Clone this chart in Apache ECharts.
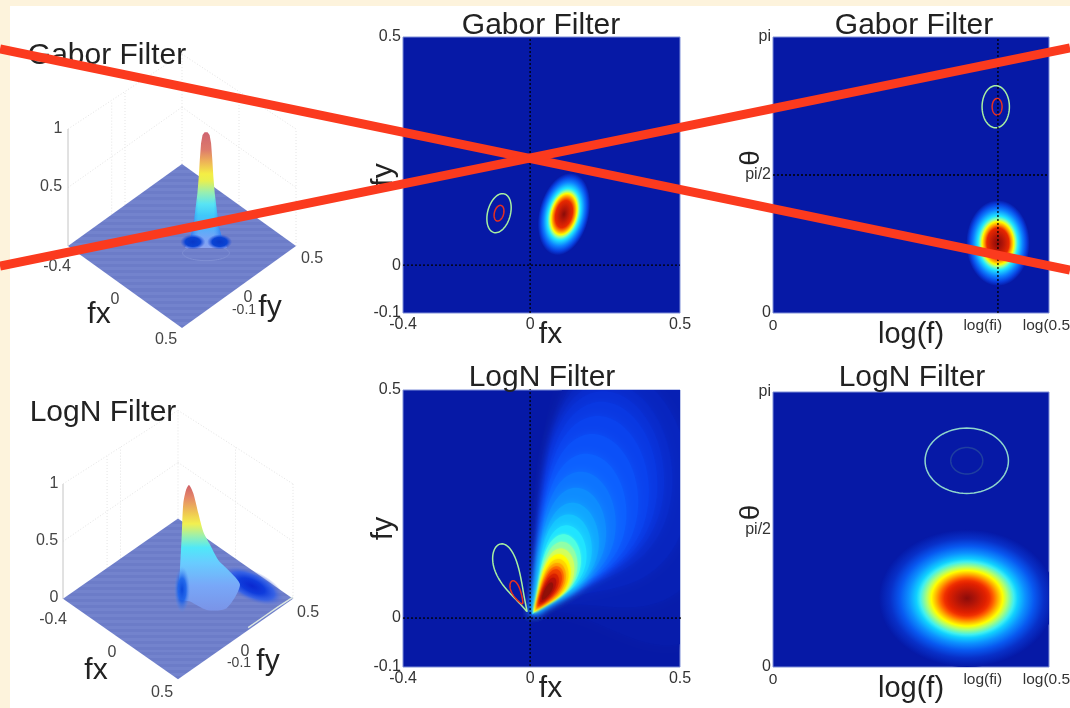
<!DOCTYPE html>
<html><head><meta charset="utf-8">
<style>html,body{margin:0;padding:0;background:#fdf3dc}#c{width:1070px;height:708px}</style>
<script src="https://cdn.jsdelivr.net/npm/echarts@6/dist/echarts.min.js"></script>
</head><body><div id="c"></div>
<script>
// ---------- values ----------
const titles = ['Gabor Filter','Gabor Filter','Gabor Filter','LogN Filter','LogN Filter','LogN Filter'];
const fxTicks = [-0.413, 0, 0.487];
const fyTicks = [-0.104, 0, 0.496];
const logTicks = [0, 0.76, 1];
const logTickLabels = ['0','log(fi)','log(0.5)'];
const thetaTicks = [0, 90, 180];
const thetaTickLabels = ['0','pi/2','pi'];

// blobs: [centre x, centre y, radius x, radius y, tilt deg]
const gaborXYBlob = [[0.110, 0.111, 0.081, 0.091, 14]];
const gaborXYStops = [[0,'#8a0c08'],[0.12,'#b01408'],[0.33,'#e82800'],[0.42,'#ff9000'],[0.5,'#ffff00'],[0.56,'#90ffa0'],[0.63,'#20e8ff'],[0.78,'#0c80ff'],[0.9,'#0840e0'],[1,'#0619a6']];
const gaborLogBlob = [[0.815, 45.6, 0.115, 28, 0]];
const gaborLogStops = [[0,'#8a0c08'],[0.15,'#b01408'],[0.35,'#e82800'],[0.42,'#ff9000'],[0.5,'#ffff00'],[0.56,'#90ffa0'],[0.63,'#20e8ff'],[0.78,'#0c80ff'],[0.9,'#0840e0'],[1,'#0619a6']];
const logNLogBlob = [[0.703, 45, 0.32, 45, 0]];
const logNLogStops = [[0,'#8c0c0a'],[0.096,'#b01408'],[0.213,'#e02000'],[0.255,'#f03000'],[0.298,'#ff6000'],[0.35,'#ffb000'],[0.404,'#ffff00'],[0.456,'#b0ff70'],[0.53,'#40f0f0'],[0.574,'#10d0ff'],[0.66,'#0c90ff'],[0.76,'#0858f0'],[0.87,'#0830c8'],[1,'#0518a6']];

// outlines: [centre x, centre y, radius x, radius y, tilt deg]
const gaborXYOutlines = [[-0.101,0.113,0.037,0.0435,-15],[-0.101,0.113,0.015,0.0174,-15]];
const gaborLogOutlines = [[0.807,134.5,0.0495,13.7,0],[0.812,134.5,0.018,5.4,0]];
const logNLogOutlines = [[0.702,135,0.151,21.4,0],[0.702,135,0.058,8.7,0]];
const gaborOutlineColors = ['#a8f0a0','#e83020'];
const logNOutlineColors = ['#8fd6cc','#1f3fa0'];

// LogN contours in fx/fy: [near radius, far radius, direction deg, half spread deg]
const logNContours = [
 [0.009,0.78,36,44],[0.009,0.70,42,38],[0.009,0.64,47,34],[0.009,0.60,50,31],[0.009,0.575,51,30],
 [0.009,0.55,51,29],[0.009,0.515,51,28.5],[0.010,0.47,51,28],[0.010,0.42,51,27.5],[0.010,0.375,51,27],
 [0.011,0.335,51,26],[0.011,0.30,50,25.5],[0.012,0.27,50,25],[0.012,0.245,49,24],[0.014,0.222,49,23],
 [0.016,0.205,48,22],[0.018,0.19,47,21],[0.021,0.175,47,20],[0.024,0.165,46,18.5],[0.028,0.155,46,17],
 [0.032,0.147,46,15],[0.036,0.14,46,13],[0.042,0.128,46,11],[0.048,0.118,46,8.5],[0.056,0.105,46,6]];
const logNContourColors = ['#071cab','#0720b4','#0825bf','#082aca','#0930d6','#0938e2','#0a42ee','#0b50f8','#0c60ff','#0d74ff','#0e8cff','#10a6ff','#14c4ff','#20e4ff','#50ffe0','#90ffa8','#d0ff60','#ffff00','#ffd800','#ffa800','#ff7000','#f04000','#d82000','#b81008','#901008'];
const logNMirrorOutlines = [[0.018,0.19,125,16],[0.04,0.10,128,10]];

// 3-D box, [fx, fy, z] pairs
const wallLines = [
 [[-0.4,-0.1,1],[-0.4,0.5,0.94]],[[-0.4,0.5,0.94],[0.5,0.5,1]],
 [[-0.4,-0.1,0.5],[-0.4,0.5,0.487]],[[-0.4,0.5,0.487],[0.5,0.5,0.5]],
 [[-0.4,0.5,0],[-0.4,0.5,0.94]],[[0.5,0.5,0],[0.5,0.5,1]],
 [[-0.4,0.2,0],[-0.4,0.2,0.97]],[[-0.4,0.13,0],[-0.4,0.13,0.97]],[[0.05,0.5,0],[0.05,0.5,0.97]]];
const zAxisLine = [[[-0.4,-0.1,0],[-0.4,-0.1,1]]];
const floorCorners = [[-0.4,-0.1,0],[-0.4,0.5,0],[0.5,0.5,0],[0.5,-0.1,0]];

// Gabor surface: silhouette heights and half widths
const gaborPeak = [0.156, 0.256];
const gaborTowerZ = [0.99,0.966,0.895,0.752,0.61,0.467,0.325,0.182,0.097,0.04,0];
const gaborTowerHalfWidth = [0.013,0.031,0.044,0.055,0.064,0.076,0.094,0.111,0.14,0.169,0.184];
const gaborTowerStops = [[0,'#cf6470'],[0.15,'#dd7a6c'],[0.25,'#eeb058'],[0.36,'#f4ee45'],[0.42,'#e8f050'],[0.52,'#98efb0'],[0.62,'#58e4f4'],[0.72,'#40c8fa'],[0.82,'#4fb0fa'],[0.92,'#78a4f6'],[1,'#8aa2f0']];
const gaborEdgeZ = [0.42,0.30,0.18,0.09,0.03];
const gaborEdgeHalfWidth = [0.08,0.098,0.115,0.14,0.165];
const gaborBaseBlobs = [[1.095,0.035,0.11,0.065,0],[1.33,0.035,0.11,0.065,0]];
const gaborBaseRing = [[1.2105,-0.06,0.205,0.065,0]];

// LogN surface outlines, projected axis units
const logNBodyH = [1.096,1.133,1.177,1.22,1.272,1.35,1.437,1.539,1.423,1.25,1.104,1.003,1.017,1.032,1.046,1.07];
const logNBodyV = [0.991,0.919,0.745,0.585,0.484,0.339,0.252,0.122,-0.081,-0.096,-0.023,0.006,0.252,0.542,0.832,0.948];
const logNBodyStops = [[0,'#cf6068'],[0.1,'#e58868'],[0.24,'#f0d050'],[0.31,'#f2f050'],[0.41,'#98f0b0'],[0.5,'#50e8f8'],[0.62,'#68ccff'],[0.8,'#78a8f8'],[1,'#7a94e8']];
const logNRidgeBlob = [[1.643,0.113,0.30,0.13,25]];
const logNRidgeStops = [[0,'#0a28d0'],[0.4,'#0f3cdc'],[0.7,'rgba(40,90,235,0.8)'],[1,'rgba(100,120,210,0)']];
const logNLeftBlobs = [[1.035,0.08,0.07,0.2,0]];
const logNLeftStops = [[0,'#0a48dc'],[0.5,'rgba(16,90,232,0.8)'],[1,'rgba(80,140,240,0)']];
const logNEdgeH = [2,1.87,1.74,1.61];
const logNEdgeV = [0.015,-0.07,-0.16,-0.25];

// red cross-out, window pixels
const crossA = [[0,49],[1070,270]];
const crossB = [[0,266],[1070,48]];
// ---------- end of values ----------

const FF = '"Liberation Sans", Arial, sans-serif';
const stripes = [];
for (let i=0;i<54;i++){ stripes.push({offset:i/54,color:i%2?'#6c7cc8':'#7383cd'},{offset:(i+1)/54-0.0001,color:i%2?'#6c7cc8':'#7383cd'}); }
const grad = s => s.map(a=>({offset:a[0],color:a[1]}));
const project = (fx,fy,z)=>{const a=(fx+0.4)/0.9,b=(fy+0.1)/0.6;return [a+b,z-(a-b)*0.7];};

const gridRects = [
 {left:68,top:48,width:228,height:279,show:false},
 {left:403,top:37,width:277,height:276},
 {left:773,top:37,width:276,height:276},
 {left:63,top:404.4,width:230,height:274,show:false},
 {left:403,top:390,width:277,height:277},
 {left:773,top:392,width:276,height:275}];
const grid = gridRects.map(g=>Object.assign({show:true,outerBoundsMode:'none',containLabel:false,backgroundColor:'#0619a6',borderColor:'#7f8fd8',borderWidth:1},g));

const hidden = (i)=>({gridIndex:i,type:'value',show:false});
const fnum = v => v===0?'0':v.toFixed(1);
const tickLab = {fontFamily:FF,fontSize:16,color:'#333',hideOverlap:false,showMinLabel:true,showMaxLabel:true};
const xFx = (i,nameGap)=>({gridIndex:i,type:'value',min:fxTicks[0],max:fxTicks[2],axisLine:{show:false},axisTick:{show:false},splitLine:{show:false},
  axisLabel:Object.assign({},tickLab,{customValues:fxTicks,formatter:fnum,margin:4}),
  name:'fx',nameLocation:'middle',nameGap:nameGap,nameMoveOverlap:false,nameTextStyle:{fontFamily:FF,fontSize:30,color:'#222',padding:[0,0,0,18]}});
const yFy = (i,lo,hi)=>({gridIndex:i,type:'value',min:lo,max:hi,axisLine:{show:false},axisTick:{show:false},splitLine:{show:false},
  axisLabel:Object.assign({},tickLab,{customValues:[lo,0,hi],formatter:fnum,margin:2}),
  name:'fy',nameLocation:'middle',nameGap:4,nameRotate:90,nameMoveOverlap:false,nameTextStyle:{fontFamily:FF,fontSize:30,color:'#222',verticalAlign:'bottom'}});
const xLog = (i)=>({gridIndex:i,type:'value',min:0,max:1,axisLine:{show:false},axisTick:{show:false},splitLine:{show:false},
  axisLabel:Object.assign({},tickLab,{fontSize:15.5,customValues:logTicks,formatter:v=>logTickLabels[logTicks.indexOf(v)],margin:5}),
  name:'log(f)',nameLocation:'middle',nameGap:7,nameMoveOverlap:false,nameTextStyle:{fontFamily:FF,fontSize:29,color:'#222'}});
const yTheta = (i)=>({gridIndex:i,type:'value',min:0,max:180,axisLine:{show:false},axisTick:{show:false},splitLine:{show:false},
  axisLabel:Object.assign({},tickLab,{customValues:thetaTicks,formatter:v=>thetaTickLabels[thetaTicks.indexOf(v)],margin:2}),
  name:'θ',nameLocation:'middle',nameGap:8,nameRotate:90,nameMoveOverlap:false,nameTextStyle:{fontFamily:FF,fontSize:28,color:'#222',padding:[0,0,0,34]}});

function blobSeries(i,rows,stops,z){
  return {type:'custom',xAxisIndex:i,yAxisIndex:i,clip:true,z:z||3,silent:true,data:rows,encode:{x:0,y:1},
    renderItem:(p,api)=>{
      const c=api.coord([api.value(0),api.value(1)]),s=api.size([api.value(2),api.value(3)]);
      return {type:'circle',shape:{cx:0,cy:0,r:100},x:c[0],y:c[1],scaleX:s[0]/100,scaleY:s[1]/100,rotation:-api.value(4)*Math.PI/180,
        style:{fill:new echarts.graphic.RadialGradient(0.5,0.5,0.5,grad(stops))}};
    }};
}
function outlineSeries(i,rows,colors,z,width){
  return {type:'custom',xAxisIndex:i,yAxisIndex:i,clip:true,z:z||5,silent:true,data:rows,encode:{x:0,y:1},
    renderItem:(p,api)=>{
      const c=api.coord([api.value(0),api.value(1)]),s=api.size([api.value(2),api.value(3)]),t=api.value(4)*Math.PI/180,pts=[];
      for(let a=0;a<360;a+=5){const u=s[0]*Math.cos(a*Math.PI/180),v=s[1]*Math.sin(a*Math.PI/180);
        pts.push([c[0]+u*Math.cos(t)+v*Math.sin(t),c[1]-u*Math.sin(t)+v*Math.cos(t)]);}
      return {type:'polygon',shape:{points:pts},style:{fill:'none',stroke:colors[p.dataIndex],lineWidth:width||1.5}};
    }};
}
function polarPoints(api,near,far,theta,half){
  const mid=(near+far)/2,hw=(far-near)/2,pts=[];
  for(let a=0;a<360;a+=4){const r=a*Math.PI/180,f=mid+hw*Math.cos(r),th=(theta+half*Math.sin(r))*Math.PI/180;
    pts.push(api.coord([f*Math.cos(th),f*Math.sin(th)]));}
  return pts;
}
function dotted(i,pts){
  return {type:'line',xAxisIndex:i,yAxisIndex:i,data:pts,showSymbol:false,symbol:'none',silent:true,z:6,clip:false,animation:false,
    lineStyle:{color:'#000',width:1.3,type:[2,2]}};
}
function lines3D(i,rows,style){
  return {type:'custom',xAxisIndex:i,yAxisIndex:i,silent:true,z:1,data:rows.map((r,k)=>[k]),
    renderItem:(p,api)=>{const r=rows[p.dataIndex];
      return {type:'polyline',shape:{points:r.map(q=>api.coord(project(q[0],q[1],q[2])))},style:Object.assign({fill:'none'},style)};}};
}
function floor(i){
  return {type:'custom',xAxisIndex:i,yAxisIndex:i,silent:true,z:2,data:[[0]],
    renderItem:(p,api)=>({type:'polygon',shape:{points:floorCorners.map(q=>api.coord(project(q[0],q[1],q[2])))},
      style:{fill:new echarts.graphic.LinearGradient(0,0,0,1,stripes)}})};
}
function polySeries(i,hs,vs,fill,z,smooth){
  return {type:'custom',xAxisIndex:i,yAxisIndex:i,silent:true,z:z,data:[[0]],
    renderItem:(p,api)=>({type:'polygon',shape:{points:hs.map((h,k)=>api.coord([h,vs[k]])),smooth:smooth||0},style:{fill:fill()}})};
}
function strokeSeries(i,hs,vs,color,width,z){
  return {type:'custom',xAxisIndex:i,yAxisIndex:i,silent:true,z:z,data:[[0]],
    renderItem:(p,api)=>({type:'polyline',shape:{points:hs.map((h,k)=>api.coord([h,vs[k]]))},style:{fill:'none',stroke:color,lineWidth:width}})};
}
const peakH = project(gaborPeak[0],gaborPeak[1],0);
const towerH = gaborTowerZ.map((z,k)=>peakH[0]+gaborTowerHalfWidth[k]).concat(gaborTowerZ.map((z,k)=>peakH[0]-gaborTowerHalfWidth[k]).reverse());
const towerV = gaborTowerZ.map(z=>peakH[1]+z).concat(gaborTowerZ.map(z=>peakH[1]+z).reverse());
const edgeH = gaborEdgeZ.map((z,k)=>peakH[0]+gaborEdgeHalfWidth[k]).concat(gaborEdgeZ.map((z,k)=>peakH[0]-gaborEdgeHalfWidth[k]).reverse());
const edgeV = gaborEdgeZ.map(z=>peakH[1]+z).concat(gaborEdgeZ.map(z=>peakH[1]+z).reverse());

const softDark=[[0,'#0838c8'],[0.6,'#0a44d4'],[1,'rgba(40,80,220,0)']];
const wallStyle={stroke:'#e4e4e4',lineWidth:1,lineDash:[1,2]};

const series = [
 // top-left 3-D
 lines3D(0,wallLines,wallStyle),
 lines3D(0,zAxisLine,{stroke:'#c4c4c4',lineWidth:1}),
 floor(0),
 outlineSeries(0,gaborBaseRing,['#8090d4'],3,1),
 polySeries(0,towerH,towerV,()=>new echarts.graphic.LinearGradient(0,0,0,1,grad(gaborTowerStops)),4),
 polySeries(0,edgeH,edgeV,()=>new echarts.graphic.LinearGradient(0,0,1,0,[{offset:0,color:'rgba(8,80,230,1)'},{offset:0.3,color:'rgba(60,150,250,0)'},{offset:0.7,color:'rgba(60,150,250,0)'},{offset:1,color:'rgba(8,80,230,1)'}]),5),
 blobSeries(0,gaborBaseBlobs,softDark,6),
 // top-middle
 blobSeries(1,gaborXYBlob,gaborXYStops),
 outlineSeries(1,gaborXYOutlines,gaborOutlineColors),
 dotted(1,[[0,fyTicks[0]],[0,fyTicks[2]]]),
 dotted(1,[[fxTicks[0],0],[fxTicks[2],0]]),
 // top-right
 blobSeries(2,gaborLogBlob,gaborLogStops),
 outlineSeries(2,gaborLogOutlines,gaborOutlineColors),
 dotted(2,[[0.815,0],[0.815,180]]),
 dotted(2,[[0,90],[1,90]]),
 // bottom-left 3-D
 lines3D(3,wallLines,wallStyle),
 lines3D(3,zAxisLine,{stroke:'#c4c4c4',lineWidth:1}),
 floor(3),
 strokeSeries(3,logNEdgeH,logNEdgeV,'#dbe6e0',1.5,3),
 blobSeries(3,logNRidgeBlob,logNRidgeStops,3),
 polySeries(3,logNBodyH,logNBodyV,()=>new echarts.graphic.LinearGradient(0,0,0,1,grad(logNBodyStops)),4,0.25),
 blobSeries(3,logNLeftBlobs,logNLeftStops,5),
 // bottom-middle
 {type:'custom',xAxisIndex:4,yAxisIndex:4,clip:true,z:3,silent:true,data:logNContours,
  renderItem:(p,api)=>{const col=logNContourColors[p.dataIndex];
   return {type:'polygon',shape:{points:polarPoints(api,api.value(0),api.value(1),api.value(2),api.value(3))},style:{fill:col,shadowColor:col,shadowBlur:p.dataIndex<14?9:3}};}},
 {type:'custom',xAxisIndex:4,yAxisIndex:4,clip:true,z:5,silent:true,data:logNMirrorOutlines,
  renderItem:(p,api)=>({type:'polygon',shape:{points:polarPoints(api,api.value(0),api.value(1),api.value(2),api.value(3))},style:{fill:'none',stroke:gaborOutlineColors[p.dataIndex],lineWidth:1.5}})},
 dotted(4,[[0,fyTicks[0]],[0,fyTicks[2]]]),
 dotted(4,[[fxTicks[0],0],[0.52,0]]),
 // bottom-right
 blobSeries(5,logNLogBlob,logNLogStops),
 outlineSeries(5,logNLogOutlines,logNOutlineColors)
];

const txt=(text,x,y,size,color,rot)=>({type:'text',x:x,y:y,rotation:rot||0,z:8,style:{text:text,font:(size)+'px '+FF,fill:color||'#444',align:'center',verticalAlign:'middle',textAlign:'center',textVerticalAlign:'middle'}});
const graphic = [
 {type:'rect',z:-10,shape:{x:10,y:6,width:1060,height:702},style:{fill:'#ffffff'}},
 // 3-D axis labels
 txt('1',58,129,16),txt('0.5',51,187,16),txt('-0.4',57,267,16),txt('0',115,300,16),txt('0.5',166,340,16),txt('0.5',312,259,16),
 txt('-0.1',244,310,14),txt('0',248,298,16),txt('fy',270,308,30,'#222'),txt('fx',99,315,30,'#222'),
 txt('1',54,484,16),txt('0.5',47,541,16),txt('0',54,598,16),txt('-0.4',53,620,16),txt('0',112,653,16),txt('0.5',162,693,16),txt('0.5',308,613,16),
 txt('-0.1',239,663,14),txt('0',245,652,16),txt('fy',268,662,30,'#222'),txt('fx',96,671,30,'#222'),
 // cross-out
 {type:'line',z:50,shape:{x1:crossA[0][0],y1:crossA[0][1],x2:crossA[1][0],y2:crossA[1][1]},style:{stroke:'#fb3a1e',lineWidth:9}},
 {type:'line',z:50,shape:{x1:crossB[0][0],y1:crossB[0][1],x2:crossB[1][0],y2:crossB[1][1]},style:{stroke:'#fb3a1e',lineWidth:9}}
];
const tpos=[[107,41],[541,11],[914,11],[103,398],[542,363],[912,363]];
const title = titles.map((t,i)=>({text:t,left:tpos[i][0],top:tpos[i][1],textAlign:'center',padding:0,textStyle:{fontFamily:FF,fontSize:30,fontWeight:'normal',color:'#222'}}));

const chart = echarts.init(document.getElementById('c'),null,{renderer:'canvas'});
chart.setOption({
  animation:false,backgroundColor:'#fdf3dc',title:title,grid:grid,graphic:graphic,tooltip:{show:false},
  xAxis:[
   Object.assign(hidden(0),{min:0,max:2}),xFx(1,7),xLog(2),
   Object.assign(hidden(3),{min:0,max:2}),xFx(4,7),xLog(5)],
  yAxis:[
   Object.assign(hidden(0),{min:-0.692,max:1.692}),yFy(1,fyTicks[0],fyTicks[2]),yTheta(2),
   Object.assign(hidden(3),{min:-0.692,max:1.692}),yFy(4,-0.106,0.494),yTheta(5)],
  series:series
});
</script></body></html>
